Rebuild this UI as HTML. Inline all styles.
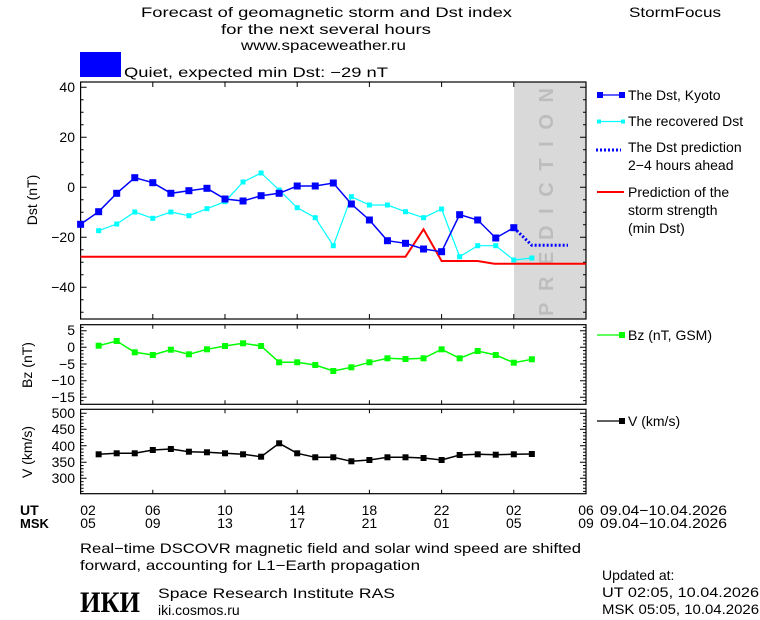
<!DOCTYPE html>
<html><head><meta charset="utf-8"><style>
html,body{margin:0;padding:0;background:#fff;}
svg{display:block;font-family:"Liberation Sans",sans-serif;}
text{font-size:14px;fill:#000;}
</style></head><body>
<svg width="760" height="620" viewBox="0 0 760 620" xmlns="http://www.w3.org/2000/svg">
<!-- header -->
<text x="141" y="17" textLength="371" lengthAdjust="spacingAndGlyphs">Forecast of geomagnetic storm and Dst index</text>
<text x="221" y="34" textLength="210" lengthAdjust="spacingAndGlyphs">for the next several hours</text>
<text x="241" y="50" textLength="165" lengthAdjust="spacingAndGlyphs">www.spaceweather.ru</text>
<text x="629" y="17" textLength="92" lengthAdjust="spacingAndGlyphs">StormFocus</text>
<rect x="80" y="52" width="41" height="25" fill="#0000ff"/>
<text x="124" y="77" textLength="264" lengthAdjust="spacingAndGlyphs">Quiet, expected min Dst: −29 nT</text>

<!-- Dst panel -->
<rect x="514" y="82" width="72" height="237" fill="#d9d9d9"/>
<text transform="translate(553,316) rotate(-90)" style="font-size:20px;fill:#bdbdbd;font-weight:bold" textLength="228" lengthAdjust="spacing">PREDICTION</text>
<rect x="80.6" y="82" width="505.4" height="237" fill="none" stroke="#000" stroke-width="1.2"/>
<g stroke="#000" stroke-width="1">
<path d="M80.6 87.3h6M80.6 137.3h6M80.6 187.3h6M80.6 237.3h6M80.6 287.3h6M586 87.3h-6M586 137.3h-6M586 187.3h-6M586 237.3h-6M586 287.3h-6"/>
<path d="M80.6 99.8h3M80.6 112.3h3M80.6 124.8h3M80.6 149.8h3M80.6 162.3h3M80.6 174.8h3M80.6 199.8h3M80.6 212.3h3M80.6 224.8h3M80.6 249.8h3M80.6 262.3h3M80.6 274.8h3M80.6 299.8h3M80.6 312.3h3M586 99.8h-3M586 112.3h-3M586 124.8h-3M586 149.8h-3M586 162.3h-3M586 174.8h-3M586 199.8h-3M586 212.3h-3M586 224.8h-3M586 249.8h-3M586 262.3h-3M586 274.8h-3M586 299.8h-3M586 312.3h-3"/>
<path d="M152.8 82v5M225 82v5M297.2 82v5M369.4 82v5M441.6 82v5M513.8 82v5M152.8 319v-5M225 319v-5M297.2 319v-5M369.4 319v-5M441.6 319v-5M513.8 319v-5"/>
</g>
<g text-anchor="end"><text x="75" y="92">40</text><text x="75" y="142">20</text><text x="75" y="192">0</text><text x="75" y="242">−20</text><text x="75" y="292">−40</text></g>
<text transform="translate(37,200) rotate(-90)" text-anchor="middle">Dst (nT)</text>
<polyline fill="none" stroke="#ff0000" stroke-width="2" points="80.6,256.7 405.5,256.7 423.55,229.3 441.6,261 477.5,261 494.4,263.7 586,263.7"/>
<polyline fill="none" stroke="#00ffff" stroke-width="1.2" points="98.65,230.7 116.7,224 134.75,212 152.8,218.3 170.85,212 188.9,215.7 206.95,208.7 225,201.7 243.05,182 261.1,173 279.15,190 297.2,207.7 315.25,217.7 333.3,245.7 351.35,196.7 369.4,205 387.45,205 405.5,211.7 423.55,217.7 441.6,209 459.65,256.7 477.7,245.7 495.75,245.7 513.8,260 531.85,258"/>
<g fill="#00ffff"><rect x="96.15" y="228.2" width="5" height="5"/><rect x="114.2" y="221.5" width="5" height="5"/><rect x="132.25" y="209.5" width="5" height="5"/><rect x="150.3" y="215.8" width="5" height="5"/><rect x="168.35" y="209.5" width="5" height="5"/><rect x="186.4" y="213.2" width="5" height="5"/><rect x="204.45" y="206.2" width="5" height="5"/><rect x="222.5" y="199.2" width="5" height="5"/><rect x="240.55" y="179.5" width="5" height="5"/><rect x="258.6" y="170.5" width="5" height="5"/><rect x="276.65" y="187.5" width="5" height="5"/><rect x="294.7" y="205.2" width="5" height="5"/><rect x="312.75" y="215.2" width="5" height="5"/><rect x="330.8" y="243.2" width="5" height="5"/><rect x="348.85" y="194.2" width="5" height="5"/><rect x="366.9" y="202.5" width="5" height="5"/><rect x="384.95" y="202.5" width="5" height="5"/><rect x="403" y="209.2" width="5" height="5"/><rect x="421.05" y="215.2" width="5" height="5"/><rect x="439.1" y="206.5" width="5" height="5"/><rect x="457.15" y="254.2" width="5" height="5"/><rect x="475.2" y="243.2" width="5" height="5"/><rect x="493.25" y="243.2" width="5" height="5"/><rect x="511.3" y="257.5" width="5" height="5"/><rect x="529.35" y="255.5" width="5" height="5"/></g>
<polyline fill="none" stroke="#0000ff" stroke-width="3" stroke-dasharray="2,2" points="513.8,227.7 531.85,245.3 568,245.3"/>
<polyline fill="none" stroke="#0000ff" stroke-width="1.5" points="80.6,224.3 98.65,211.7 116.7,193.3 134.75,177.7 152.8,182.7 170.85,193.3 188.9,190.7 206.95,188.3 225,199 243.05,201 261.1,195.7 279.15,193.3 297.2,186 315.25,186 333.3,183 351.35,204 369.4,220 387.45,240.7 405.5,243.3 423.55,249 441.6,251.7 459.65,214.7 477.7,220 495.75,238 513.8,227.7"/>
<g fill="#0000ff"><rect x="77.1" y="220.8" width="7" height="7"/><rect x="95.15" y="208.2" width="7" height="7"/><rect x="113.2" y="189.8" width="7" height="7"/><rect x="131.25" y="174.2" width="7" height="7"/><rect x="149.3" y="179.2" width="7" height="7"/><rect x="167.35" y="189.8" width="7" height="7"/><rect x="185.4" y="187.2" width="7" height="7"/><rect x="203.45" y="184.8" width="7" height="7"/><rect x="221.5" y="195.5" width="7" height="7"/><rect x="239.55" y="197.5" width="7" height="7"/><rect x="257.6" y="192.2" width="7" height="7"/><rect x="275.65" y="189.8" width="7" height="7"/><rect x="293.7" y="182.5" width="7" height="7"/><rect x="311.75" y="182.5" width="7" height="7"/><rect x="329.8" y="179.5" width="7" height="7"/><rect x="347.85" y="200.5" width="7" height="7"/><rect x="365.9" y="216.5" width="7" height="7"/><rect x="383.95" y="237.2" width="7" height="7"/><rect x="402" y="239.8" width="7" height="7"/><rect x="420.05" y="245.5" width="7" height="7"/><rect x="438.1" y="248.2" width="7" height="7"/><rect x="456.15" y="211.2" width="7" height="7"/><rect x="474.2" y="216.5" width="7" height="7"/><rect x="492.25" y="234.5" width="7" height="7"/><rect x="510.3" y="224.2" width="7" height="7"/></g>

<!-- legend -->
<line x1="597" y1="95" x2="625" y2="95" stroke="#0000ff" stroke-width="1.2"/><rect x="597" y="92" width="6" height="6" fill="#0000ff"/><rect x="619" y="92" width="6" height="6" fill="#0000ff"/>
<text x="628" y="100">The Dst, Kyoto</text>
<line x1="597" y1="121.5" x2="625" y2="121.5" stroke="#00ffff" stroke-width="1.2"/><rect x="597" y="119.5" width="4" height="4" fill="#00ffff"/><rect x="621" y="119.5" width="4" height="4" fill="#00ffff"/>
<text x="628" y="126">The recovered Dst</text>
<line x1="596" y1="150" x2="621" y2="150" stroke="#0000ff" stroke-width="3" stroke-dasharray="2,2"/>
<text x="628" y="152">The Dst prediction</text>
<text x="628" y="170">2−4 hours ahead</text>
<line x1="597" y1="192" x2="624" y2="192" stroke="#ff0000" stroke-width="2"/>
<text x="628" y="197">Prediction of the</text>
<text x="628" y="215">storm strength</text>
<text x="628" y="233">(min Dst)</text>

<!-- Bz panel -->
<rect x="80.6" y="324.7" width="505.4" height="79.6" fill="none" stroke="#000" stroke-width="1.2"/>
<g stroke="#000"><path d="M80.6 330.7h6M80.6 347.3h6M80.6 364h6M80.6 380.7h6M80.6 397.3h6M586 330.7h-6M586 347.3h-6M586 364h-6M586 380.7h-6M586 397.3h-6"/>
<path d="M80.6 327.4h3M80.6 334h3M80.6 337.3h3M80.6 340.7h3M80.6 344h3M80.6 350.6h3M80.6 354h3M80.6 357.3h3M80.6 360.6h3M80.6 367.3h3M80.6 370.7h3M80.6 374h3M80.6 377.3h3M80.6 384h3M80.6 387.3h3M80.6 390.7h3M80.6 394h3M80.6 400.6h3M586 327.4h-3M586 334h-3M586 337.3h-3M586 340.7h-3M586 344h-3M586 350.6h-3M586 354h-3M586 357.3h-3M586 360.6h-3M586 367.3h-3M586 370.7h-3M586 374h-3M586 377.3h-3M586 384h-3M586 387.3h-3M586 390.7h-3M586 394h-3M586 400.6h-3"/>
<path d="M152.8 324.7v4M225 324.7v4M297.2 324.7v4M369.4 324.7v4M441.6 324.7v4M513.8 324.7v4M152.8 404.3v-4M225 404.3v-4M297.2 404.3v-4M369.4 404.3v-4M441.6 404.3v-4M513.8 404.3v-4"/></g>
<g text-anchor="end"><text x="75" y="335">5</text><text x="75" y="352">0</text><text x="75" y="369">−5</text><text x="75" y="385">−10</text><text x="75" y="402">−15</text></g>
<text transform="translate(32,365) rotate(-90)" text-anchor="middle">Bz (nT)</text>
<polyline fill="none" stroke="#00ff00" stroke-width="1.5" points="98.65,345.7 116.7,341 134.75,352.3 152.8,355 170.85,349.7 188.9,354.3 206.95,349.3 225,346 243.05,343.3 261.1,346 279.15,362.3 297.2,362.3 315.25,365 333.3,371 351.35,367.3 369.4,362.3 387.45,358.3 405.5,359 423.55,358.3 441.6,349.3 459.65,358.3 477.7,351 495.75,355 513.8,362.7 531.85,359.3"/>
<g fill="#00ff00"><rect x="95.65" y="342.7" width="6" height="6"/><rect x="113.7" y="338" width="6" height="6"/><rect x="131.75" y="349.3" width="6" height="6"/><rect x="149.8" y="352" width="6" height="6"/><rect x="167.85" y="346.7" width="6" height="6"/><rect x="185.9" y="351.3" width="6" height="6"/><rect x="203.95" y="346.3" width="6" height="6"/><rect x="222" y="343" width="6" height="6"/><rect x="240.05" y="340.3" width="6" height="6"/><rect x="258.1" y="343" width="6" height="6"/><rect x="276.15" y="359.3" width="6" height="6"/><rect x="294.2" y="359.3" width="6" height="6"/><rect x="312.25" y="362" width="6" height="6"/><rect x="330.3" y="368" width="6" height="6"/><rect x="348.35" y="364.3" width="6" height="6"/><rect x="366.4" y="359.3" width="6" height="6"/><rect x="384.45" y="355.3" width="6" height="6"/><rect x="402.5" y="356" width="6" height="6"/><rect x="420.55" y="355.3" width="6" height="6"/><rect x="438.6" y="346.3" width="6" height="6"/><rect x="456.65" y="355.3" width="6" height="6"/><rect x="474.7" y="348" width="6" height="6"/><rect x="492.75" y="352" width="6" height="6"/><rect x="510.8" y="359.7" width="6" height="6"/><rect x="528.85" y="356.3" width="6" height="6"/></g>
<line x1="597" y1="335" x2="624" y2="335" stroke="#00ff00" stroke-width="1.2"/><rect x="619" y="332" width="6" height="6" fill="#00ff00"/>
<text x="628" y="340">Bz (nT, GSM)</text>

<!-- V panel -->
<rect x="80.6" y="409.3" width="505.4" height="84.4" fill="none" stroke="#000" stroke-width="1.2"/>
<g stroke="#000"><path d="M80.6 413.3h6M80.6 429.3h6M80.6 445.7h6M80.6 462.3h6M80.6 478.3h6M586 413.3h-6M586 429.3h-6M586 445.7h-6M586 462.3h-6M586 478.3h-6"/>
<path d="M80.6 416.6h3M80.6 419.9h3M80.6 423.2h3M80.6 426.5h3M80.6 432.6h3M80.6 435.9h3M80.6 439.2h3M80.6 442.5h3M80.6 449h3M80.6 452.3h3M80.6 455.6h3M80.6 458.9h3M80.6 465.5h3M80.6 468.8h3M80.6 472h3M80.6 475.2h3M80.6 481.6h3M80.6 484.9h3M80.6 488.2h3M80.6 491.4h3M586 416.6h-3M586 419.9h-3M586 423.2h-3M586 426.5h-3M586 432.6h-3M586 435.9h-3M586 439.2h-3M586 442.5h-3M586 449h-3M586 452.3h-3M586 455.6h-3M586 458.9h-3M586 465.5h-3M586 468.8h-3M586 472h-3M586 475.2h-3M586 481.6h-3M586 484.9h-3M586 488.2h-3M586 491.4h-3"/>
<path d="M152.8 409.3v4M225 409.3v4M297.2 409.3v4M369.4 409.3v4M441.6 409.3v4M513.8 409.3v4M152.8 493.7v-4M225 493.7v-4M297.2 493.7v-4M369.4 493.7v-4M441.6 493.7v-4M513.8 493.7v-4"/></g>
<g text-anchor="end"><text x="75" y="418">500</text><text x="75" y="434">450</text><text x="75" y="451">400</text><text x="75" y="467">350</text><text x="75" y="483">300</text></g>
<text transform="translate(32,452) rotate(-90)" text-anchor="middle">V (km/s)</text>
<polyline fill="none" stroke="#000" stroke-width="1.5" points="98.65,454.3 116.7,453.3 134.75,453.3 152.8,450 170.85,449 188.9,451.7 206.95,452.3 225,453.3 243.05,454.3 261.1,456.7 279.15,443.3 297.2,453.3 315.25,457.3 333.3,457.3 351.35,461.3 369.4,460 387.45,457.3 405.5,457.3 423.55,458 441.6,460 459.65,455 477.7,454.3 495.75,454.7 513.8,454.3 531.85,454"/>
<g fill="#000"><rect x="95.65" y="451.3" width="6" height="6"/><rect x="113.7" y="450.3" width="6" height="6"/><rect x="131.75" y="450.3" width="6" height="6"/><rect x="149.8" y="447" width="6" height="6"/><rect x="167.85" y="446" width="6" height="6"/><rect x="185.9" y="448.7" width="6" height="6"/><rect x="203.95" y="449.3" width="6" height="6"/><rect x="222" y="450.3" width="6" height="6"/><rect x="240.05" y="451.3" width="6" height="6"/><rect x="258.1" y="453.7" width="6" height="6"/><rect x="276.15" y="440.3" width="6" height="6"/><rect x="294.2" y="450.3" width="6" height="6"/><rect x="312.25" y="454.3" width="6" height="6"/><rect x="330.3" y="454.3" width="6" height="6"/><rect x="348.35" y="458.3" width="6" height="6"/><rect x="366.4" y="457" width="6" height="6"/><rect x="384.45" y="454.3" width="6" height="6"/><rect x="402.5" y="454.3" width="6" height="6"/><rect x="420.55" y="455" width="6" height="6"/><rect x="438.6" y="457" width="6" height="6"/><rect x="456.65" y="452" width="6" height="6"/><rect x="474.7" y="451.3" width="6" height="6"/><rect x="492.75" y="451.7" width="6" height="6"/><rect x="510.8" y="451.3" width="6" height="6"/><rect x="528.85" y="451" width="6" height="6"/></g>
<line x1="597" y1="421" x2="624" y2="421" stroke="#000" stroke-width="1.2"/><rect x="619" y="418" width="6" height="6" fill="#000"/>
<text x="628" y="426">V (km/s)</text>

<!-- time axis -->
<text x="20" y="515" style="font-weight:bold">UT</text>
<text x="20" y="528" style="font-weight:bold;font-size:13px">MSK</text>
<g text-anchor="middle">
<text x="88" y="515">02</text><text x="152.8" y="515">06</text><text x="225" y="515">10</text><text x="297.2" y="515">14</text><text x="369.4" y="515">18</text><text x="441.6" y="515">22</text><text x="513.8" y="515">02</text><text x="586" y="515">06</text>
<text x="88" y="528">05</text><text x="152.8" y="528">09</text><text x="225" y="528">13</text><text x="297.2" y="528">17</text><text x="369.4" y="528">21</text><text x="441.6" y="528">01</text><text x="513.8" y="528">05</text><text x="586" y="528">09</text>
</g>
<text x="600" y="515" textLength="127" lengthAdjust="spacingAndGlyphs">09.04−10.04.2026</text>
<text x="600" y="528" textLength="127" lengthAdjust="spacingAndGlyphs">09.04−10.04.2026</text>

<text x="80" y="553" textLength="501" lengthAdjust="spacingAndGlyphs">Real−time DSCOVR magnetic field and solar wind speed are shifted</text>
<text x="80" y="570" textLength="340" lengthAdjust="spacingAndGlyphs">forward, accounting for L1−Earth propagation</text>

<text x="80" y="612" style="font-family:'Liberation Serif',serif;font-weight:bold;font-size:30px" textLength="60" lengthAdjust="spacingAndGlyphs">ИКИ</text>
<text x="158" y="598" textLength="237" lengthAdjust="spacingAndGlyphs">Space Research Institute RAS</text>
<text x="158" y="615">iki.cosmos.ru</text>

<text x="602" y="580">Updated at:</text>
<text x="602" y="597" textLength="157" lengthAdjust="spacingAndGlyphs">UT   02:05, 10.04.2026</text>
<text x="602" y="614" textLength="157" lengthAdjust="spacingAndGlyphs">MSK 05:05, 10.04.2026</text>
</svg>
</body></html>
